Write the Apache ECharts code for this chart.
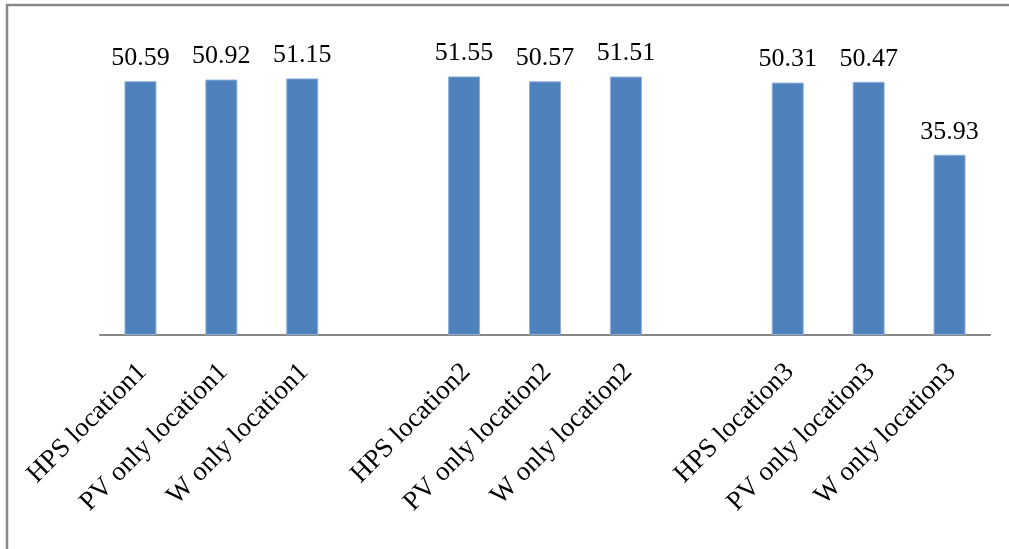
<!DOCTYPE html>
<html>
<head>
<meta charset="utf-8">
<script src="https://cdn.jsdelivr.net/npm/echarts@6/dist/echarts.min.js"></script>
<style>
html,body{margin:0;padding:0;background:#fff;}
#chart{width:1009px;height:549px;}
</style>
</head>
<body>
<div id="chart"></div>
<script>
const categories = ['HPS location1','PV only location1','W only location1','',
  'HPS location2','PV only location2','W only location2','',
  'HPS location3','PV only location3','W only location3'];
const values = [50.59, 50.92, 51.15, null, 51.55, 50.57, 51.51, null, 50.31, 50.47, 35.93];

const chart = echarts.init(document.getElementById('chart'));
chart.setOption({
  backgroundColor: '#fff',
  animation: false,
  graphic: [{
    type: 'rect',
    shape: {x: 7, y: 5, width: 1200, height: 800},
    style: {fill: 'none', stroke: '#888', lineWidth: 2.5},
    silent: true
  }],
  grid: {left: 100, right: 19, top: 34, bottom: 214, containLabel: false},
  xAxis: {
    type: 'category',
    data: categories,
    axisLine: {show: true, lineStyle: {color: '#878787', width: 2}},
    axisTick: {show: false},
    splitLine: {show: false},
    axisLabel: {
      interval: 0,
      rotate: 45,
      margin: 35,
      padding: [0, -3, 0, 0],
      fontFamily: 'Liberation Serif',
      fontSize: 27,
      color: '#000'
    }
  },
  yAxis: {
    type: 'value',
    min: 0,
    max: 60,
    show: false,
    splitLine: {show: false}
  },
  series: [{
    type: 'bar',
    data: values,
    barWidth: 32,
    itemStyle: {color: '#4F81BD', borderColor: '#8fb0da', borderWidth: 1},
    label: {
      show: true,
      position: 'top',
      distance: 10,
      fontFamily: 'Liberation Serif',
      fontSize: 26,
      color: '#000',
      formatter: function (p) { return p.value == null ? '' : p.value.toFixed(2); }
    }
  }]
});
</script>
</body>
</html>
